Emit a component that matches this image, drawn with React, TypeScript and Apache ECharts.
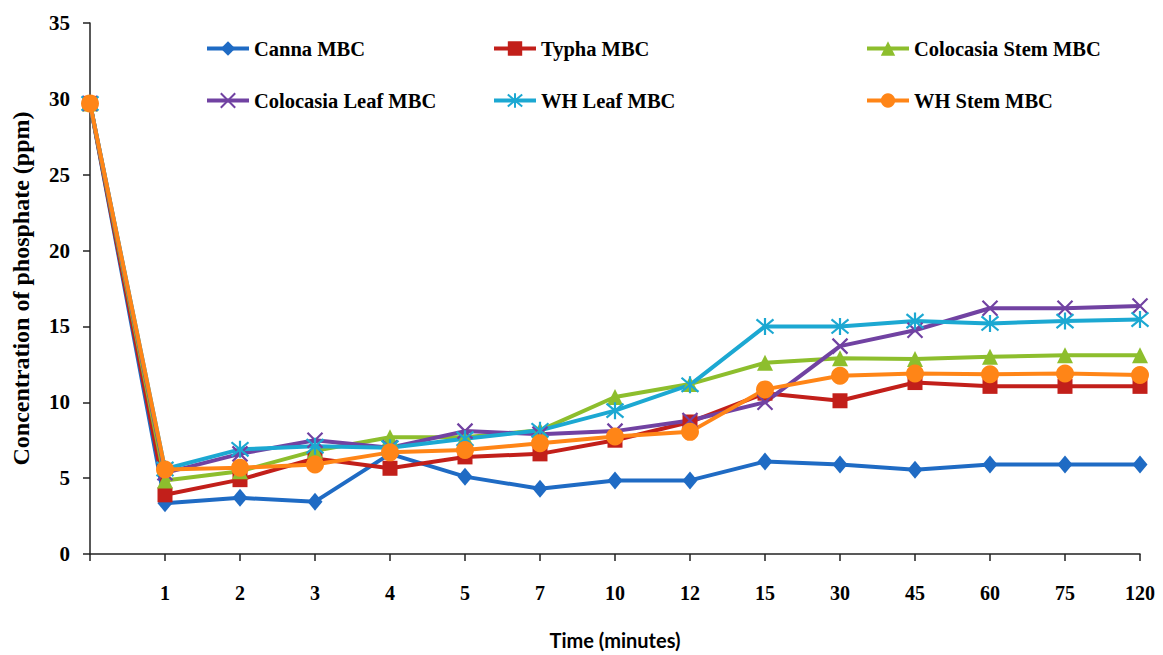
import React, { useEffect, useRef } from "react";
import * as echarts from "echarts";

const categories = ["", "1", "2", "3", "4", "5", "7", "10", "12", "15", "30", "45", "60", "75", "120"];

const cannaMBC = [29.7, 3.35, 3.7, 3.45, 6.6, 5.1, 4.3, 4.85, 4.85, 6.1, 5.9, 5.55, 5.9, 5.9, 5.9];
const typhaMBC = [29.7, 3.9, 4.9, 6.3, 5.65, 6.4, 6.6, 7.5, 8.7, 10.6, 10.1, 11.3, 11.05, 11.05, 11.05];
const colocasiaStemMBC = [29.7, 4.85, 5.45, 6.8, 7.7, 7.7, 8.15, 10.35, 11.2, 12.6, 12.9, 12.85, 13.0, 13.1, 13.1];
const colocasiaLeafMBC = [29.7, 5.35, 6.6, 7.5, 7.0, 8.1, 7.9, 8.1, 8.8, 10.0, 13.7, 14.75, 16.2, 16.2, 16.35];
const whLeafMBC = [29.7, 5.6, 6.9, 7.1, 7.0, 7.6, 8.15, 9.45, 11.15, 15.0, 15.0, 15.35, 15.2, 15.35, 15.45];
const whStemMBC = [29.7, 5.57, 5.68, 5.9, 6.7, 6.85, 7.3, 7.75, 8.05, 10.85, 11.75, 11.9, 11.85, 11.9, 11.8];

const seriesNames = [
  "Canna MBC",
  "Typha MBC",
  "Colocasia Stem MBC",
  "Colocasia Leaf MBC",
  "WH Leaf MBC",
  "WH Stem MBC",
];

const SERIF = "'Liberation Serif', 'Times New Roman', serif";

export default function App() {
  const ref = useRef<HTMLDivElement>(null);

  useEffect(() => {
    if (!ref.current) return;
    const chart = echarts.init(ref.current, null, { renderer: "svg" });

    const mk = (
      name: string,
      data: number[],
      color: string,
      symbol: string,
      symbolSize: number | number[],
      stroked = false
    ) => ({
      name,
      type: "line",
      data,
      symbol,
      symbolSize,
      showAllSymbol: true,
      lineStyle: { color, width: 4 },
      itemStyle: stroked
        ? { color, borderColor: color, borderWidth: 2.2 }
        : { color, borderWidth: 0 },
      emphasis: { disabled: true },
    });

    const legendCommon = {
      orient: "vertical",
      top: 33,
      itemWidth: 42,
      itemHeight: 18,
      itemGap: 31,
      lineStyle: { width: 4 },
      textStyle: {
        fontFamily: SERIF,
        fontWeight: "bold",
        fontSize: 20.5,
        color: "#000",
        lineHeight: 20,
      },
    };

    chart.setOption({
      animation: false,
      backgroundColor: "#fff",
      grid: { left: 90, right: 23, top: 23, bottom: 94 },
      legend: [
        { ...legendCommon, left: 200, data: [seriesNames[0], seriesNames[3]] },
        { ...legendCommon, left: 487, data: [seriesNames[1], seriesNames[4]] },
        { ...legendCommon, left: 860, data: [seriesNames[2], seriesNames[5]] },
      ],
      xAxis: {
        type: "category",
        data: categories,
        boundaryGap: false,
        name: "Time (minutes)",
        nameLocation: "middle",
        nameGap: 76,
        nameTextStyle: {
          fontFamily: "Lato, 'Liberation Sans Narrow', sans-serif",
          fontWeight: "bold",
          fontSize: 20,
          color: "#000",
        },
        axisLine: { lineStyle: { color: "#222", width: 1.5 } },
        axisTick: { show: true, inside: false, length: 7, alignWithLabel: true, lineStyle: { color: "#222", width: 1.5 } },
        axisLabel: {
          interval: 0,
          margin: 29,
          fontFamily: SERIF,
          fontWeight: "bold",
          fontSize: 20,
          color: "#000",
        },
        splitLine: { show: false },
      },
      yAxis: {
        type: "value",
        min: 0,
        max: 35,
        interval: 5,
        name: "Concentration of phosphate (ppm)",
        nameLocation: "middle",
        nameGap: 57,
        nameTextStyle: {
          fontFamily: SERIF,
          fontWeight: "bold",
          fontSize: 24,
          color: "#000",
        },
        axisLine: { show: true, lineStyle: { color: "#222", width: 1.5 } },
        axisTick: { show: true, inside: false, length: 7, lineStyle: { color: "#222", width: 1.5 } },
        axisLabel: {
          margin: 20,
          fontFamily: SERIF,
          fontWeight: "bold",
          fontSize: 21,
          color: "#000",
        },
        splitLine: { show: false },
      },
      series: [
        mk(seriesNames[0], cannaMBC, "#1F6BC4", "diamond", [15, 18]),
        mk(seriesNames[1], typhaMBC, "#C21F1A", "rect", 15),
        mk(seriesNames[2], colocasiaStemMBC, "#8DBE2D", "triangle", 16),
        mk(seriesNames[3], colocasiaLeafMBC, "#7142A2", "path://M0,0L10,10M10,0L0,10", 15, true),
        mk(seriesNames[4], whLeafMBC, "#1CA8D2", "path://M1,1L11,11M11,1L1,11M6,0L6,12", 17, true),
        mk(seriesNames[5], whStemMBC, "#FF8517", "circle", 18),
      ],
    });

    return () => chart.dispose();
  }, []);

  return (
    <div
      ref={ref}
      style={{ position: "fixed", left: 0, top: 0, width: 1163, height: 655, background: "#fff" }}
    />
  );
}
